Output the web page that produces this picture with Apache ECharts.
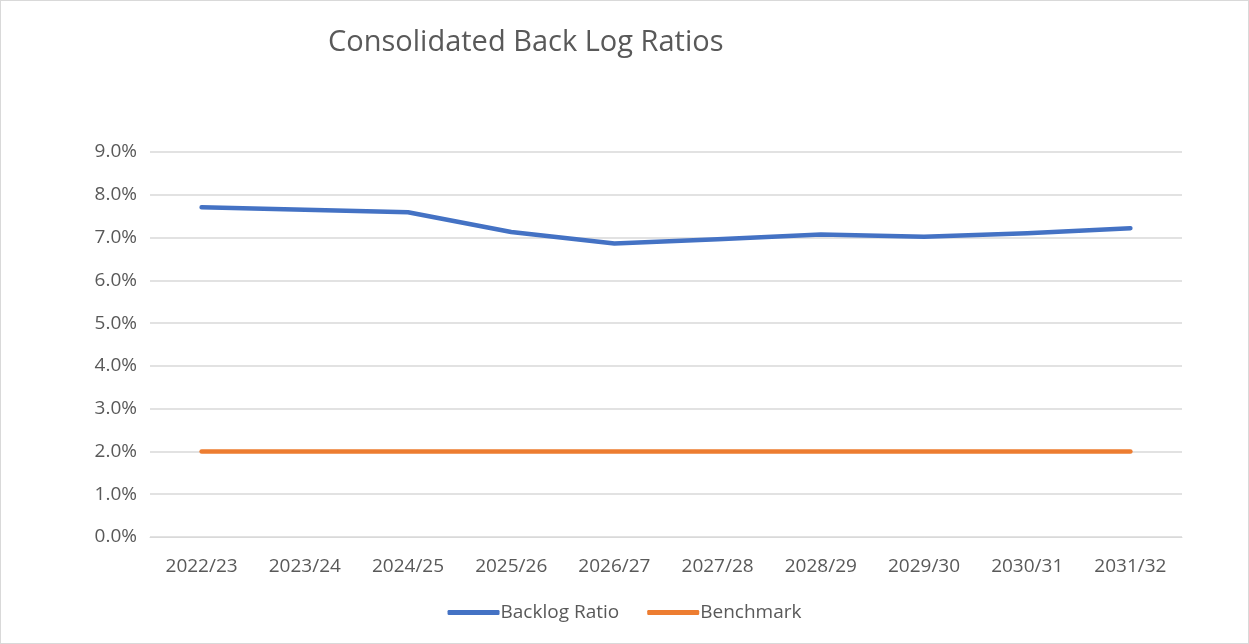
<!DOCTYPE html>
<html>
<head>
<meta charset="utf-8">
<script src="https://cdn.jsdelivr.net/npm/echarts@6/dist/echarts.min.js"></script>
<style>
  html, body { margin: 0; padding: 0; background: #fff; }
  #chart { width: 1247px; height: 642px; border: 1px solid #d9d9d9; }
</style>
</head>
<body>
<div id="chart"></div>
<script>
// chart data
var years = ['2022/23', '2023/24', '2024/25', '2025/26', '2026/27', '2027/28', '2028/29', '2029/30', '2030/31', '2031/32'];
var backlogRatio = [7.71, 7.65, 7.59, 7.13, 6.86, 6.96, 7.07, 7.02, 7.10, 7.22];
var benchmark = [2.0, 2.0, 2.0, 2.0, 2.0, 2.0, 2.0, 2.0, 2.0, 2.0];

var font = 'Open Sans';
var myChart = echarts.init(document.getElementById('chart'));
myChart.setOption({
  backgroundColor: '#fff',
  animation: false,
  title: {
    text: 'Consolidated Back Log Ratios',
    left: 322,
    top: 22,
    textStyle: { color: '#595959', fontSize: 29, fontWeight: 'normal', fontFamily: font }
  },
  grid: { left: 149, right: 66, top: 151, bottom: 106 },
  legend: {
    bottom: 16,
    left: 'center',
    icon: 'roundRect',
    itemWidth: 52,
    itemHeight: 5,
    itemGap: 28,
    textStyle: { color: '#595959', fontSize: 19, fontFamily: font, padding: [0, 0, 0, -4] },
    data: ['Backlog Ratio', 'Benchmark']
  },
  xAxis: {
    type: 'category',
    data: years,
    boundaryGap: true,
    axisLine: { show: true, lineStyle: { color: '#d9d9d9' } },
    axisTick: { show: false },
    axisLabel: { color: '#595959', fontSize: 19, fontFamily: font, margin: 20 }
  },
  yAxis: {
    type: 'value',
    min: 0,
    max: 9,
    interval: 1,
    axisLine: { show: false },
    axisTick: { show: false },
    splitLine: { lineStyle: { color: '#d9d9d9', width: 1.5 } },
    axisLabel: {
      color: '#595959', fontSize: 19, fontFamily: font, margin: 13,
      formatter: function (v) { return v.toFixed(1) + '%'; }
    }
  },
  series: [{
    name: 'Backlog Ratio',
    type: 'line',
    symbol: 'none',
    data: backlogRatio,
    itemStyle: { color: '#4472C4' },
    lineStyle: { color: '#4472C4', width: 4.5, cap: 'round', join: 'round' }
  }, {
    name: 'Benchmark',
    type: 'line',
    symbol: 'none',
    data: benchmark,
    itemStyle: { color: '#ED7D31' },
    lineStyle: { color: '#ED7D31', width: 4.5, cap: 'round', join: 'round' }
  }]
});
</script>
</body>
</html>
